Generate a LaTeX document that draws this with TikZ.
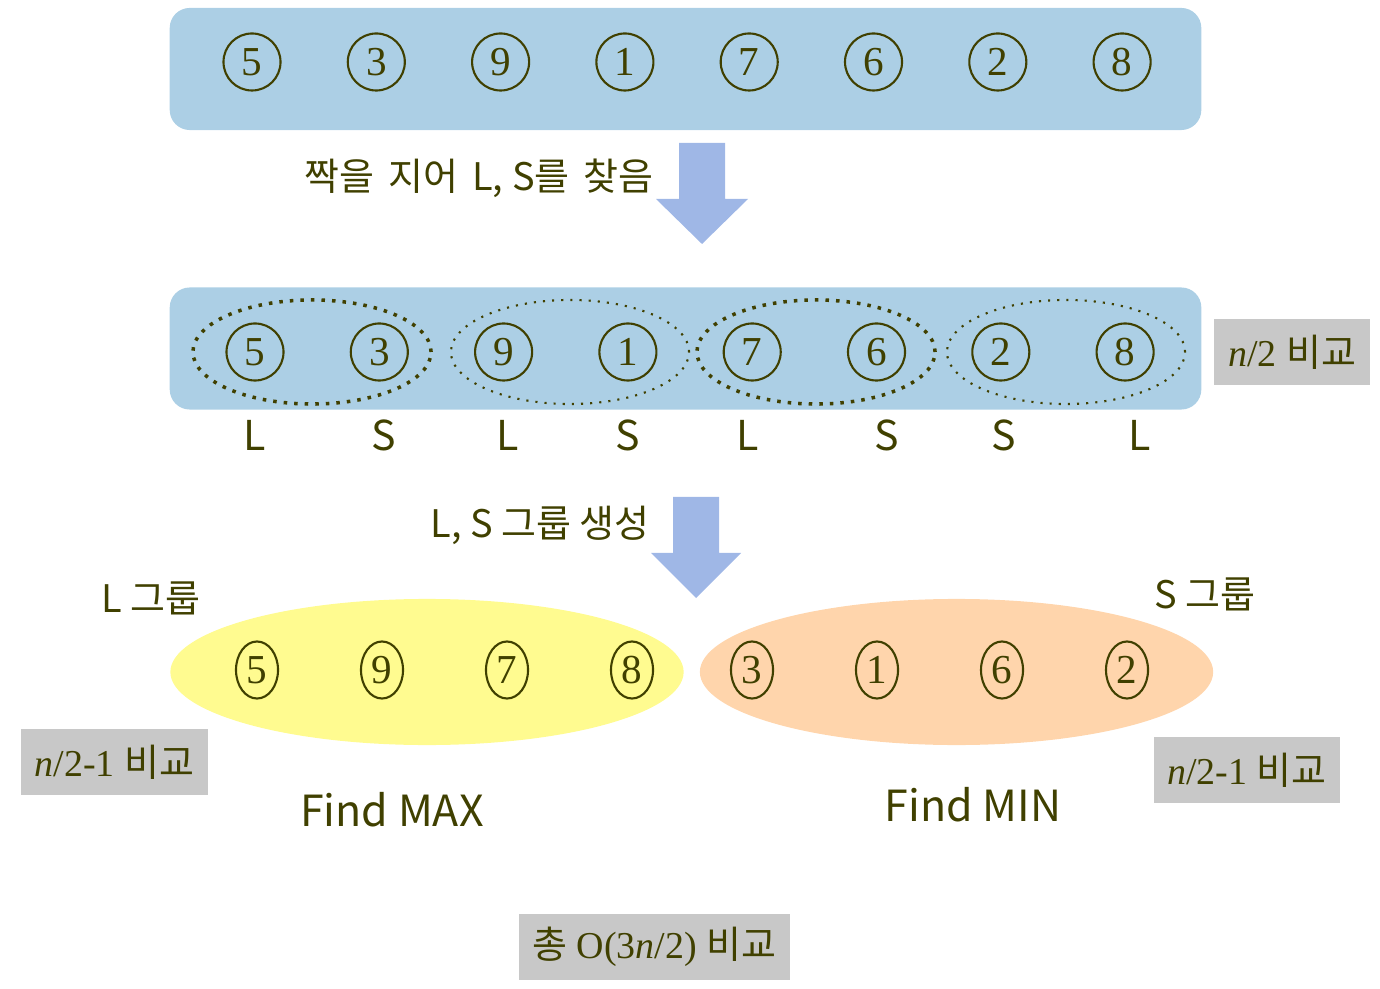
\documentclass[tikz,border=0pt]{standalone}
\usepackage{fontspec}
\setmainfont{Liberation Serif}
\newfontfamily\krfont{Noto Sans CJK KR}
\definecolor{mlink}{RGB}{64,64,0}
\definecolor{mlbox}{RGB}{172,207,229}
\definecolor{mlarrow}{RGB}{159,183,230}
\definecolor{mlyellow}{RGB}{255,251,144}
\definecolor{mlpeach}{RGB}{255,213,172}
\definecolor{mlgray}{RGB}{200,200,200}
\usetikzlibrary{shapes.geometric,positioning}

\begin{document}
\begin{tikzpicture}[
  x=0.01cm, y=-0.01cm,
  every node/.style={text=mlink},
  rowbox/.style={rounded corners=0.2cm,fill=mlbox,minimum width=10.31cm,minimum height=1.22cm},
  num/.style={draw=mlink,line width=0.6pt,circle,inner sep=0pt,minimum size=0.57cm,
              font=\fontsize{11.7}{12}\selectfont},
  numtall/.style={draw=mlink,line width=0.6pt,ellipse,inner sep=0pt,minimum width=0.42cm,
              minimum height=0.57cm,font=\fontsize{11.7}{12}\selectfont},
  pairloop/.style={draw=mlink,dotted,ellipse,minimum width=2.38cm,minimum height=1.04cm},
  grp/.style={ellipse,minimum width=5.13cm,minimum height=1.46cm},
  cmpbox/.style={fill=mlgray,minimum height=0.66cm,font=\fontsize{10.8}{12}\selectfont},
  lbl/.style={font=\krfont\fontsize{10.8}{12}\selectfont},
  side/.style={font=\krfont\fontsize{11.7}{12}\selectfont},
  fatarrow/.style={fill=mlarrow},
]
  \useasboundingbox (0,0) rectangle (1380,989);

  % input row
  \node[rowbox] (input) at (685.5,69) {};
  \foreach \v [count=\i] in {5,3,9,1,7,6,2,8}
    \node[num] (t\i) at (252+124.3*\i-124.3,62) {\v};

  % arrow 1
  \fill[fatarrow] (679,143) -- (725,143) -- (725,199) -- (748,199) -- (702,244)
    -- (656,199) -- (679,199) -- cycle;
  \node[lbl,left] (pairtxt) at (666,178) {짝을\hspace{4pt}지어\hspace{4pt}L, S를\hspace{4pt}찾음};

  % paired row
  \node[rowbox] (pairs) at (685.5,348.5) {};
  \foreach \v [count=\i] in {5,3,9,1,7,6,2,8}
    \node[num] (p\i) at (255+124.3*\i-124.3,352) {\v};
  \node[pairloop,line width=1pt] (q1) at (312,352) {};
  \node[pairloop,line width=0.6pt] (q2) at (570,352) {};
  \node[pairloop,line width=1pt] (q3) at (816,352) {};
  \node[pairloop,line width=0.6pt] (q4) at (1066,352) {};
  \foreach \s/\x [count=\i] in {L/255,S/384,L/508,S/628,L/748,S/887,S/1004,L/1140}
    \node[side] (s\i) at (\x,435) {\s};
  \node[cmpbox,minimum width=1.56cm] (cmp1) at (1292,352)
    {\textit{n}/2 {\krfont 비교}};

  % arrow 2
  \fill[fatarrow] (673,497) -- (719,497) -- (719,553) -- (741,553) -- (696,598)
    -- (651,553) -- (673,553) -- cycle;
  \node[lbl,left] (grptxt) at (662,525) {L, S 그룹 생성};

  % L group
  \node[grp,fill=mlyellow] (lgrp) at (427,672) {};
  \node[lbl] (lname) at (151,598) {L 그룹};
  \foreach \v [count=\i] in {5,9,7,8}
    \node[numtall] (l\i) at (257+125*\i-125,670) {\v};
  \node[cmpbox,minimum width=1.87cm] (cmp2) at (114.5,762)
    {\textit{n}/2-1 {\krfont 비교}};
  \node[font=\krfont\fontsize{12.2}{14}\selectfont] (fmax) at (392,810) {Find MAX};

  % S group
  \node[grp,fill=mlpeach] (sgrp) at (956.5,672) {};
  \node[lbl] (sname) at (1205,594) {S 그룹};
  \foreach \v [count=\i] in {3,1,6,2}
    \node[numtall] (m\i) at (752+125*\i-125,670) {\v};
  \node[cmpbox,minimum width=1.86cm] (cmp3) at (1247,770)
    {\textit{n}/2-1 {\krfont 비교}};
  \node[font=\krfont\fontsize{12.2}{14}\selectfont] (fmin) at (973,805) {Find MIN};

  % total
  \node[cmpbox,minimum width=2.71cm] (total) at (654.5,947)
    {{\krfont 총} O(3\textit{n}/2) {\krfont 비교}};
\end{tikzpicture}
\end{document}
